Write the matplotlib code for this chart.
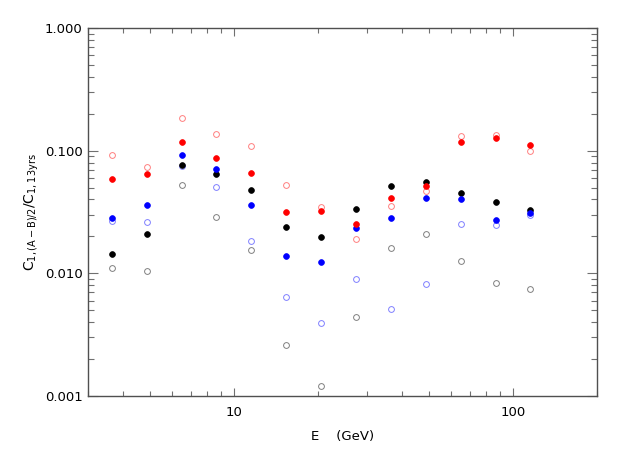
import matplotlib
matplotlib.use("Agg")
import matplotlib.pyplot as plt
from matplotlib.ticker import FixedLocator, FixedFormatter, NullFormatter
import numpy as np

energy = [3.65, 4.87, 6.49, 8.66, 11.55, 15.4, 20.5, 27.4, 36.5, 48.7, 64.9, 86.6, 115.5]

red_filled   = [0.0591, 0.0642, 0.1184, 0.0877, 0.0654, 0.0315, 0.0324, 0.0253, 0.0409, 0.0513, 0.1184, 0.1276, 0.1113]
red_open     = [0.0928, 0.0737, 0.186, 0.1368, 0.1086, 0.0525, 0.0346, 0.01907, 0.0354, 0.0472, 0.1318, 0.1350, 0.1000]
blue_filled  = [0.0284, 0.0363, 0.0923, 0.0705, 0.0361, 0.01394, 0.01239, 0.0233, 0.0283, 0.0412, 0.0402, 0.0274, 0.0313]
blue_open    = [0.0267, 0.0261, 0.0746, 0.0506, 0.01847, 0.00643, 0.00392, 0.0090, 0.0051, 0.0082, 0.0253, 0.0248, 0.0301]
black_filled = [0.01447, 0.0211, 0.0764, 0.0646, 0.0476, 0.0239, 0.0197, 0.0337, 0.0516, 0.0559, 0.0450, 0.0380, 0.0329]
black_open   = [0.01107, 0.01046, 0.0525, 0.0287, 0.01542, 0.00262, 0.001216, 0.00444, 0.01601, 0.02095, 0.01269, 0.0083, 0.0075]

x_major = [10, 100]
x_major_labels = ["10", "100"]
y_major = [0.001, 0.01, 0.1, 1.0]
y_major_labels = ["0.001", "0.010", "0.100", "1.000"]

W, H = 623, 453
fig = plt.figure(figsize=(W / 100, H / 100), dpi=100)
ax = fig.add_axes([88 / W, 1 - 396 / H, (597 - 88) / W, (396 - 28) / H])
ax.set_xscale("log")
ax.set_yscale("log")
ax.set_xlim(3.0, 200)
ax.set_ylim(0.001, 1.0)

ms = 5.8 * 0.72
ax.plot(energy, black_open, "o", ms=ms, mfc="none", mec="#808080", mew=0.7, ls="none")
ax.plot(energy, blue_open, "o", ms=ms, mfc="none", mec="#8080ff", mew=0.7, ls="none")
ax.plot(energy, red_open, "o", ms=ms, mfc="none", mec="#ff8080", mew=0.7, ls="none")
ax.plot(energy, black_filled, "o", ms=ms, mfc="black", mec="black", mew=0.5, ls="none")
ax.plot(energy, blue_filled, "o", ms=ms, mfc="#0000ff", mec="#0000ff", mew=0.5, ls="none")
ax.plot(energy, red_filled, "o", ms=ms, mfc="#ff0000", mec="#ff0000", mew=0.5, ls="none")

x_minor = [m * 10 ** d for d in range(0, 3) for m in range(2, 10)]
x_minor = [v for v in x_minor if 3 <= v <= 200 and v not in x_major]
y_minor = [m * 10 ** d for d in range(-3, 0) for m in range(2, 10)]

ax.xaxis.set_major_locator(FixedLocator(x_major))
ax.xaxis.set_major_formatter(FixedFormatter(x_major_labels))
ax.xaxis.set_minor_locator(FixedLocator(x_minor))
ax.xaxis.set_minor_formatter(NullFormatter())
ax.yaxis.set_major_locator(FixedLocator(y_major))
ax.yaxis.set_major_formatter(FixedFormatter(y_major_labels))
ax.yaxis.set_minor_locator(FixedLocator(y_minor))
ax.yaxis.set_minor_formatter(NullFormatter())

tc = "#707070"
ax.tick_params(axis="both", which="both", direction="in", top=True, right=True,
               color=tc, labelsize=9.5, labelcolor="black", width=0.8)
ax.tick_params(axis="y", which="major", length=7.5, pad=4)
ax.tick_params(axis="y", which="minor", length=4)
ax.tick_params(axis="x", which="major", length=6, pad=7)
ax.tick_params(axis="x", which="minor", length=3.3)

for s in ax.spines.values():
    s.set_color("#505050")
    s.set_linewidth(1.0)

ax.set_xlabel("E    (GeV)", fontsize=9.5, labelpad=8)
ax.set_ylabel(r"$\mathregular{C_{1,(A-B)/2}/C_{1,13yrs}}$", fontsize=10, labelpad=3)

fig.savefig("out.png", dpi=100)
